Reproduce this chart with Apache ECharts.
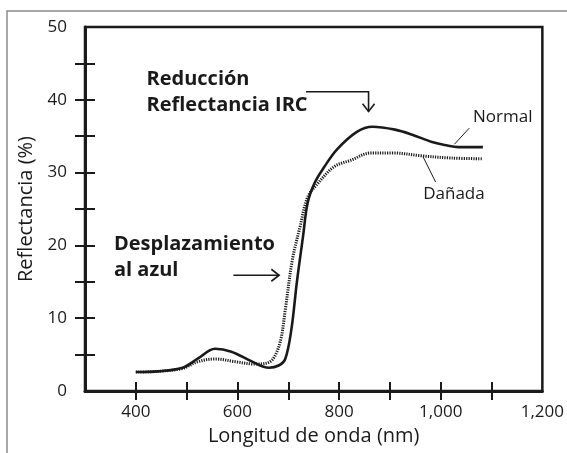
<!DOCTYPE html>
<html>
<head>
<meta charset="utf-8">
<script src="https://cdn.jsdelivr.net/npm/echarts@6/dist/echarts.min.js"></script>
<style>
  html, body { margin: 0; padding: 0; background: #fff; }
  #chart { width: 567px; height: 453px; }
</style>
</head>
<body>
<div id="chart"></div>
<script>
// longitud de onda (nm) y reflectancia (%)
var nmNormal = [400, 444, 492, 521, 556, 588, 627, 662, 681, 694, 706, 717, 729, 738, 752, 771, 796, 835, 866, 910, 944, 983, 1008, 1035, 1083];
var reflNormal = [2.6, 2.7, 3.2, 4.4, 5.8, 5.4, 4.1, 3.2, 3.5, 4.4, 8.4, 15.0, 21.2, 25.8, 28.6, 30.8, 33.2, 35.6, 36.3, 35.9, 35.2, 34.2, 33.8, 33.5, 33.5];

var nmDanada = [400, 444, 492, 521, 556, 598, 633, 656, 671, 685, 694, 708, 723, 738, 758, 790, 823, 863, 906, 963, 1021, 1083];
var reflDanada = [2.6, 2.7, 3.1, 4.0, 4.4, 4.0, 3.7, 3.8, 4.5, 7.0, 11.1, 18.0, 22.5, 26.6, 28.5, 30.8, 31.7, 32.7, 32.7, 32.3, 32.0, 31.9];

var xTicks = [400, 500, 600, 700, 800, 900, 1000, 1100];
var xLabels = [400, 600, 800, 1000, 1200];
var yTicks = [5, 10, 15, 20, 25, 30, 35, 40, 45];
var yLabels = [0, 10, 20, 30, 40, 50];

var FONT = 'Open Sans';
var INK = '#1a1a1a';

function pairs(xs, ys) {
    var out = [];
    for (var i = 0; i < xs.length; i++) {
        out.push([xs[i], ys[i]]);
    }
    return out;
}

function fmtThousands(v) {
    return String(v).replace(/\B(?=(\d{3})+(?!\d))/g, ',');
}

var myChart = echarts.init(document.getElementById('chart'), null, {renderer: 'canvas'});

var option = {
    animation: false,
    backgroundColor: '#fff',
    textStyle: { fontFamily: FONT },
    grid: {
        left: 85,
        top: 27,
        right: 15,
        bottom: 62,
        show: true,
        borderColor: INK,
        borderWidth: 2.5
    },
    xAxis: [
        {
            type: 'value',
            min: 300,
            max: 1200,
            interval: 100,
            name: 'Longitud de onda (nm)',
            nameLocation: 'middle',
            nameGap: 33,
            nameTextStyle: { fontSize: 20, color: INK, fontFamily: FONT },
            splitLine: { show: false },
            axisLine: { lineStyle: { color: INK, width: 3 } },
            axisTick: { customValues: xTicks, length: 9, lineStyle: { color: INK, width: 2 } },
            axisLabel: {
                customValues: xLabels,
                margin: 13,
                fontSize: 17,
                color: INK,
                formatter: fmtThousands
            }
        },
        {
            type: 'value',
            min: 300,
            max: 1200,
            position: 'bottom',
            splitLine: { show: false },
            axisLine: { show: false },
            axisTick: { inside: true, customValues: xTicks, length: 9, lineStyle: { color: INK, width: 2 } },
            axisLabel: { show: false }
        }
    ],
    yAxis: [
        {
            type: 'value',
            min: 0,
            max: 50,
            interval: 5,
            name: 'Reflectancia (%)',
            nameLocation: 'middle',
            nameGap: 44,
            nameTextStyle: { fontSize: 20, color: INK, fontFamily: FONT },
            splitLine: { show: false },
            axisLine: { lineStyle: { color: INK, width: 3 } },
            axisTick: { customValues: yTicks, length: 10, lineStyle: { color: INK, width: 2 } },
            axisLabel: { customValues: yLabels, margin: 18, fontSize: 17, color: INK }
        },
        {
            type: 'value',
            min: 0,
            max: 50,
            position: 'left',
            splitLine: { show: false },
            axisLine: { show: false },
            axisTick: { inside: true, customValues: yTicks, length: 10, lineStyle: { color: INK, width: 2 } },
            axisLabel: { show: false }
        }
    ],
    series: [
        {
            name: 'Normal',
            type: 'line',
            smooth: 0.35,
            showSymbol: false,
            lineStyle: { color: INK, width: 2.6 },
            data: pairs(nmNormal, reflNormal),
            z: 3
        },
        {
            name: 'Dañada',
            type: 'line',
            smooth: 0.35,
            showSymbol: false,
            lineStyle: { color: INK, width: 3, type: [1.2, 1.2] },
            data: pairs(nmDanada, reflDanada),
            z: 2
        }
    ]
};
myChart.setOption(option);

// anotaciones ancladas en coordenadas de datos
function px(nm, v) {
    return myChart.convertToPixel({gridIndex: 0}, [nm, v]);
}

var arrowHead = function (tip, dir) {
    // dir: 'down' o 'right'
    var s = 6;
    if (dir === 'down') {
        return [[tip[0] - s, tip[1] - s * 1.3], tip, [tip[0] + s, tip[1] - s * 1.3]];
    }
    return [[tip[0] - s * 1.3, tip[1] - s], tip, [tip[0] - s * 1.3, tip[1] + s]];
};

var redA = px(735, 41.1), redB = px(858, 41.1), redC = px(858, 38.4);
var desA = px(592, 15.9), desB = px(682, 15.9);
var norA = px(1056, 36.1), norB = px(1027, 33.9);
var danA = px(990, 28.7), danB = px(965, 32.2);

var boldText = { fontSize: 20, fontWeight: 'bold', fill: INK, fontFamily: FONT, lineHeight: 26 };

myChart.setOption({
    graphic: [
        {
            type: 'rect',
            shape: { x: 7, y: 11, width: 700, height: 700 },
            style: { fill: null, stroke: '#8a8a8a', lineWidth: 1.5 },
            silent: true
        },
        {
            type: 'text',
            position: px(421, 44.6),
            style: Object.assign({ text: 'Reducción\nReflectancia IRC' }, boldText)
        },
        {
            type: 'text',
            position: px(357, 22.0),
            style: Object.assign({ text: 'Desplazamiento\nal azul' }, boldText)
        },
        {
            type: 'text',
            position: px(1122, 37.6),
            style: { text: 'Normal', fontSize: 17, fill: INK, fontFamily: FONT, align: 'center', verticalAlign: 'middle' }
        },
        {
            type: 'text',
            position: px(1026, 27.1),
            style: { text: 'Dañada', fontSize: 17, fill: INK, fontFamily: FONT, align: 'center', verticalAlign: 'middle' }
        },
        { type: 'polyline', shape: { points: [redA, redB, redC] }, style: { stroke: INK, lineWidth: 1.6, fill: null } },
        { type: 'polyline', shape: { points: arrowHead(redC, 'down') }, style: { stroke: INK, lineWidth: 1.6, fill: null } },
        { type: 'line', shape: { x1: desA[0], y1: desA[1], x2: desB[0], y2: desB[1] }, style: { stroke: INK, lineWidth: 1.6 } },
        { type: 'polyline', shape: { points: arrowHead(desB, 'right') }, style: { stroke: INK, lineWidth: 1.6, fill: null } },
        { type: 'line', shape: { x1: norA[0], y1: norA[1], x2: norB[0], y2: norB[1] }, style: { stroke: INK, lineWidth: 1 } },
        { type: 'line', shape: { x1: danA[0], y1: danA[1], x2: danB[0], y2: danB[1] }, style: { stroke: INK, lineWidth: 1 } }
    ]
});
</script>
</body>
</html>
